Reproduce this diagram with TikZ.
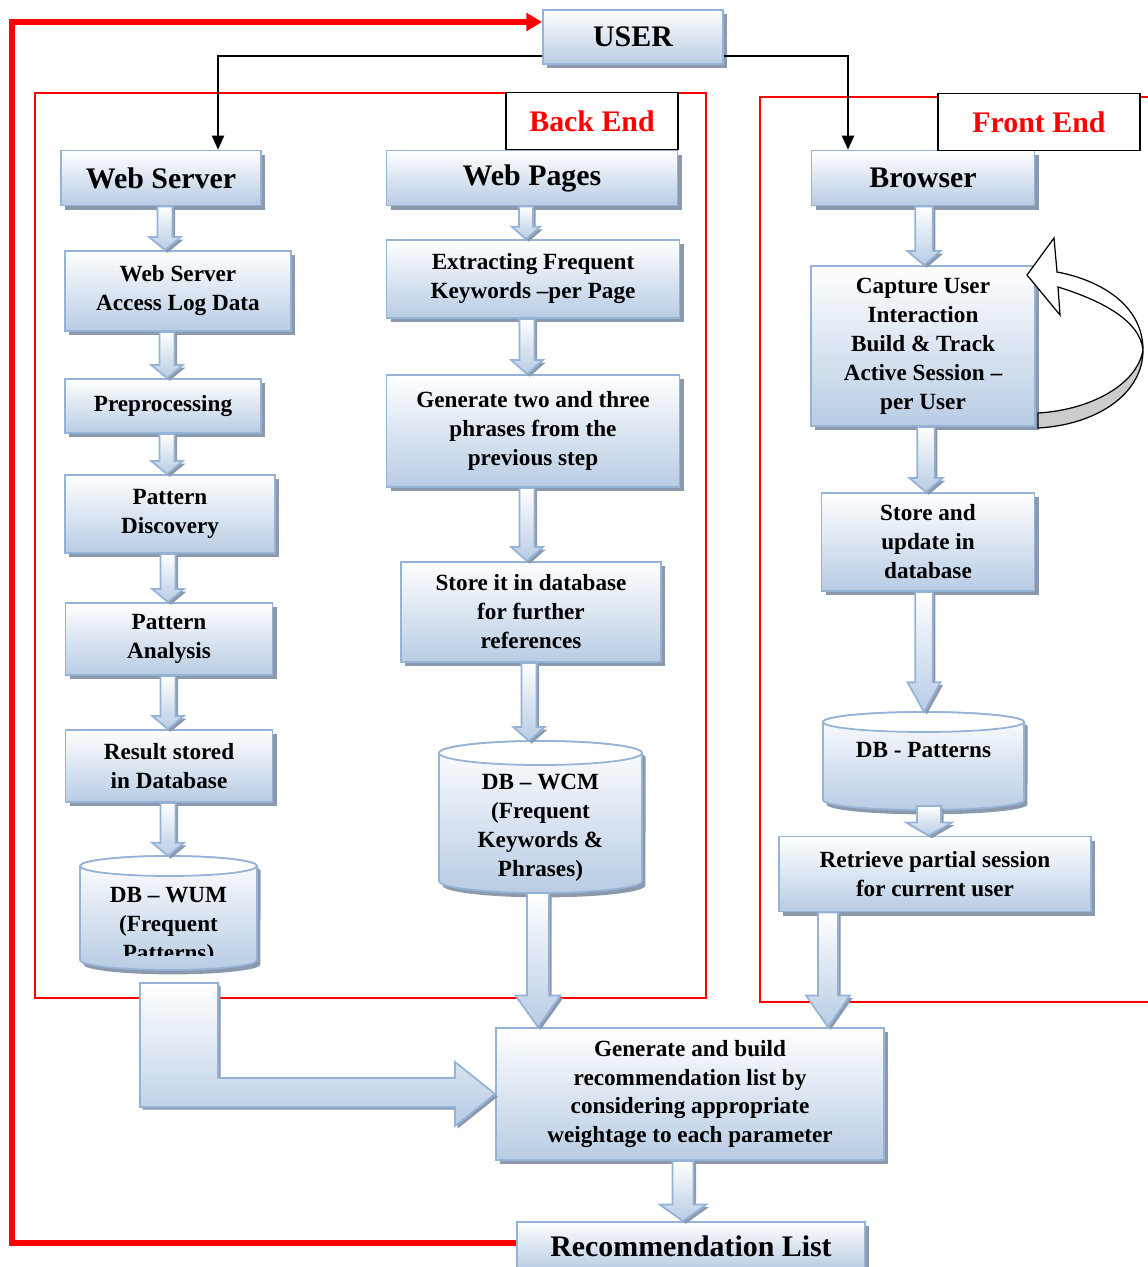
\documentclass[tikz,border=0pt]{standalone}
\usepackage{fontspec}
\setmainfont{Liberation Serif}
\usetikzlibrary{arrows.meta,shadows,calc}

\definecolor{edgeblue}{RGB}{149,179,215}
\definecolor{fillblue}{RGB}{184,204,228}
\definecolor{shadowblue}{RGB}{140,152,172}

\tikzset{
  box/.style={draw=edgeblue, line width=1pt, top color=white, bottom color=fillblue,
    inner sep=0pt, align=center,
    drop shadow={shadow xshift=2.5pt, shadow yshift=-2.5pt, fill=shadowblue, opacity=1}},
  head/.style={box, font=\fontsize{17}{20}\selectfont\bfseries},
  proc/.style={box, font=\fontsize{13.2}{16.5}\selectfont\bfseries},
  wh/.style 2 args={minimum width=#1*0.02cm, minimum height=#2*0.02cm},
  dbbody/.style={draw=edgeblue, line width=1pt, top color=white, bottom color=fillblue,
    drop shadow={shadow xshift=2pt, shadow yshift=-2.5pt, fill=shadowblue, opacity=1}},
  dbtop/.style={draw=edgeblue, line width=1pt, fill=white},
  dbtext/.style={align=center, inner sep=0pt, font=\fontsize{13.2}{16.5}\selectfont\bfseries},
  blockarrow/.style={draw=edgeblue, line width=1pt, top color=white, bottom color=fillblue,
    drop shadow={shadow xshift=1.5pt, shadow yshift=-1.5pt, fill=shadowblue, opacity=1}},
  link/.style={draw=black, line width=0.8pt, -{Triangle[length=8pt,width=7pt]}},
  feedback/.style={draw=red, line width=3pt, -{Triangle[length=9pt,width=10pt]}},
  region/.style={draw=red, line width=1.2pt},
  endlabel/.style={draw=black, fill=white, line width=0.8pt, inner sep=0pt, text=red,
    font=\fontsize{17}{20}\selectfont\bfseries},
}

% block arrow pointing down: from, to, half shaft, half head, head length
\newcommand\flowarrow[5]{%
  \shade[blockarrow] let \p1=(#1), \p2=(#2) in
    (\x1-#3,\y1) -- (\x1+#3,\y1) -- (\x1+#3,\y2+#5) -- (\x1+#4,\y2+#5)
    -- (\x1,\y2) -- (\x1-#4,\y2+#5) -- (\x1-#3,\y2+#5) -- cycle;}

\begin{document}
\begin{tikzpicture}[x=0.02cm, y=-0.02cm]
  \useasboundingbox (0,0) rectangle (1148,1267);

  % Back End / Front End
  \draw[region] (35,93) rectangle (706,998);
  \draw[region] (760,97) rectangle (1170,1002);

  % User
  \node[head, wh={180}{54}] (user) at (633,37) {USER};

  % Back End, web usage mining
  \node[head, wh={200}{55}] (ws) at (161,178) {Web Server};
  \node[proc, wh={226}{80}] (alog) at (178,291) {Web Server\\Access Log Data};
  \node[proc, wh={196}{54}] (prep) at (163,406) {Preprocessing};
  \node[proc, wh={210}{78}] (pdisc) at (170,514) {Pattern\\Discovery};
  \node[proc, wh={207}{72}] (panal) at (169,639) {Pattern\\Analysis};
  \node[proc, wh={207}{72}] (result) at (169,766) {Result stored\\in Database};

  \shade[dbbody] (80,866) -- (80,960) arc[start angle=180, end angle=360, x radius=1.77cm, y radius=0.2cm]
    -- (257,866) arc[start angle=0, end angle=180, x radius=1.77cm, y radius=0.2cm] -- cycle;
  \draw[dbtop] (168.5,866) ellipse [x radius=1.77cm, y radius=0.2cm];
  \coordinate (wumtop) at (168.5,856);
  \coordinate (wumbot) at (168.5,970);
  \begin{scope}
    \clip (80,856) rectangle (257,955);
    \node[dbtext] (wum) at (168.5,926) {DB -- WUM\\(Frequent\\Patterns)};
  \end{scope}

  % Back End, web content mining
  \node[head, wh={291}{55}] (wpages) at (532,178) {Web Pages};
  \node[proc, wh={293}{78}] (extract) at (533,279) {Extracting Frequent\\Keywords --per Page};
  \node[proc, wh={293}{112}] (gen23) at (533,431) {Generate two and three\\phrases from the\\previous step};
  \node[proc, wh={260}{100}] (storeit) at (531,612) {Store it in database\\for further\\references};

  \shade[dbbody] (439,753) -- (439,881) arc[start angle=180, end angle=360, x radius=2.03cm, y radius=0.24cm]
    -- (642,753) arc[start angle=0, end angle=180, x radius=2.03cm, y radius=0.24cm] -- cycle;
  \draw[dbtop] (540.5,753) ellipse [x radius=2.03cm, y radius=0.24cm];
  \coordinate (wcmtop) at (540.5,741);
  \coordinate (wcmbot) at (538,893);
  \node[dbtext] (wcm) at (540.5,828) {DB -- WCM\\(Frequent\\Keywords \&\\Phrases)};

  % Front End
  \node[head, wh={223}{55}] (browser) at (923,178) {Browser};
  \node[proc, wh={224}{160}] (capture) at (923,346) {Capture User\\Interaction\\Build \& Track\\Active Session --\\per User};
  \node[proc, wh={213}{98}] (storeup) at (928,542) {Store and\\update in\\database};

  \shade[dbbody] (823,722) -- (823,800) arc[start angle=180, end angle=360, x radius=2.01cm, y radius=0.2cm]
    -- (1024,722) arc[start angle=0, end angle=180, x radius=2.01cm, y radius=0.2cm] -- cycle;
  \draw[dbtop] (923.5,722) ellipse [x radius=2.01cm, y radius=0.2cm];
  \coordinate (dbptop) at (923.5,712);
  \coordinate (dbpbot) at (929,806);
  \node[dbtext] (dbp) at (923.5,750) {DB - Patterns};

  \node[proc, wh={312}{75}] (retrieve) at (935,874) {Retrieve partial session\\for current user};

  % Recommendation
  \node[proc, wh={388}{132}] (genrec) at (690,1094) {Generate and build\\recommendation list by\\considering appropriate\\weightage to each parameter};
  \node[head, wh={348}{48}] (reclist) at (691,1246) {Recommendation List};

  % labels
  \node[endlabel, wh={172}{57}] (backlbl) at (592,121) {Back End};
  \node[endlabel, wh={202}{57}] (frontlbl) at (1039,122) {Front End};

  % block arrows
  \flowarrow{ws.south -| 165,0}{alog.north}{4.3pt}{9pt}{7.5pt}
  \flowarrow{alog.south -| 167,0}{prep.north}{4.3pt}{9pt}{7.5pt}
  \flowarrow{prep.south -| 167,0}{pdisc.north}{4.3pt}{9pt}{7.5pt}
  \flowarrow{pdisc.south -| 168,0}{panal.north}{4.3pt}{9pt}{7.5pt}
  \flowarrow{panal.south -| 168,0}{result.north}{4.3pt}{9pt}{7.5pt}
  \flowarrow{result.south -| 168,0}{wumtop}{4.3pt}{9pt}{7.5pt}

  \flowarrow{wpages.south -| 526,0}{extract.north}{4pt}{8pt}{7pt}
  \flowarrow{extract.south -| 527,0}{gen23.north}{4.3pt}{9pt}{8pt}
  \flowarrow{gen23.south -| 527,0}{storeit.north}{4.3pt}{9pt}{8pt}
  \flowarrow{storeit.south -| 529,0}{wcmtop}{4.3pt}{9pt}{8pt}

  \flowarrow{browser.south -| 924,0}{capture.north}{5pt}{9.4pt}{8pt}
  \flowarrow{capture.south -| 926,0}{storeup.north}{5pt}{9.4pt}{8pt}
  \flowarrow{storeup.south -| 924,0}{dbptop}{5pt}{9.4pt}{17pt}
  \flowarrow{dbpbot}{retrieve.north}{6.8pt}{13pt}{7.5pt}

  \flowarrow{wcmbot}{genrec.north}{6.2pt}{12.8pt}{18pt}
  \flowarrow{retrieve.south -| 828,0}{genrec.north}{5.7pt}{12.5pt}{18pt}
  \flowarrow{genrec.south -| 683,0}{reclist.north}{6pt}{13.3pt}{9.5pt}

  % bent arrow from WUM
  \shade[blockarrow] (140,983) -- (218,983) -- (218,1078) -- (455,1078) -- (455,1062)
    -- (genrec.west) -- (455,1126) -- (455,1107) -- (140,1107) -- cycle;

  % loop on capture
  \filldraw[fill=black!20, draw=black, line width=0.7pt] (1038,428) .. controls (1095,425) and (1143,395) .. (1143,350)
    .. controls (1137,385) and (1090,410) .. (1038,413) -- cycle;
  \filldraw[fill=white, draw=black, line width=0.7pt] (1143,350) .. controls (1143,305) and (1100,280) .. (1057,272)
    -- (1054,238) -- (1027,275) -- (1060,315) -- (1058,287)
    .. controls (1100,300) and (1140,320) .. (1143,350);

  % user links
  \draw[link] (user.west |- 0,56) -| (ws.north -| 218,0);
  \draw[link] (user.east |- 0,56) -| (browser.north -| 848,0);
  \draw[feedback] (reclist.west |- 0,1243) -| (12,22) -- (user.west |- 0,22);
\end{tikzpicture}
\end{document}
